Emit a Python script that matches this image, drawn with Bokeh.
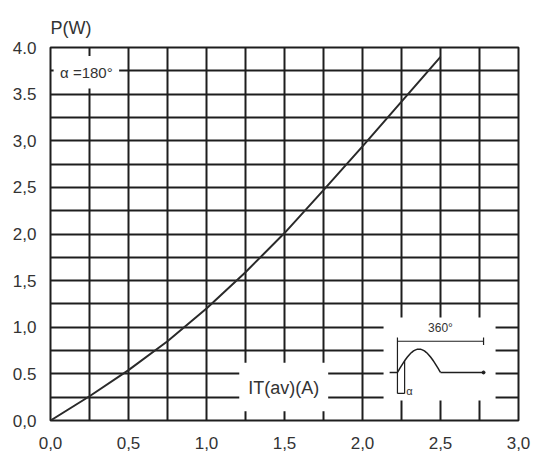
import numpy as np
from bokeh.plotting import figure
from bokeh.models import FixedTicker, Label, Range1d
from bokeh.embed import file_html
from bokeh.resources import INLINE

# Data
current_a = [0.0, 0.25, 0.5, 0.75, 1.0, 1.25, 1.5, 1.75, 2.0, 2.25, 2.5]
power_w = [0.0, 0.26, 0.54, 0.85, 1.2, 1.59, 2.01, 2.47, 2.94, 3.42, 3.9]

x_ticks = [0.0, 0.25, 0.5, 0.75, 1.0, 1.25, 1.5, 1.75, 2.0, 2.25, 2.5, 2.75, 3.0]
x_labels = ["0,0", "", "0,5", "", "1,0", "", "1,5", "", "2,0", "", "2,5", "", "3,0"]
y_ticks = [0.0, 0.25, 0.5, 0.75, 1.0, 1.25, 1.5, 1.75, 2.0, 2.25, 2.5, 2.75, 3.0, 3.25, 3.5, 3.75, 4.0]
y_labels = ["0,0", "", "0.5", "", "1,0", "", "1,5", "", "2,0", "", "2,5", "", "3,0", "", "3.5", "", "4.0"]

FONT = "Liberation Sans"
INK = "#1e1e1e"

p = figure(width=532, height=455, output_backend="svg", toolbar_location=None,
           x_range=Range1d(0, 3.0), y_range=Range1d(0, 4.0),
           min_border_left=50, min_border_right=14, min_border_top=47, min_border_bottom=35,
           title="P(W)")
p.background_fill_color = "white"
p.border_fill_color = "white"
p.outline_line_color = INK
p.outline_line_width = 2

p.title.align = "left"
p.title.text_font = FONT
p.title.text_font_size = "18px"
p.title.text_font_style = "normal"
p.title.text_color = "#333333"
p.title.offset = 0
p.title.standoff = 19

for ax, ticks, labels in ((p.xaxis[0], x_ticks, x_labels), (p.yaxis[0], y_ticks, y_labels)):
    ax.ticker = FixedTicker(ticks=ticks, minor_ticks=[])
    ax.major_label_overrides = {t: l for t, l in zip(ticks, labels)}
    ax.axis_line_color = None
    ax.major_tick_line_color = None
    ax.minor_tick_line_color = None
    ax.major_label_text_font = FONT
    ax.major_label_text_font_size = "17px"
    ax.major_label_text_color = "#333333"
p.xaxis.major_label_standoff = 10
p.yaxis.major_label_standoff = 8

p.xgrid.ticker = FixedTicker(ticks=x_ticks)
p.ygrid.ticker = FixedTicker(ticks=y_ticks)
for g in (p.xgrid[0], p.ygrid[0]):
    g.grid_line_color = INK
    g.grid_line_width = 2
    g.grid_line_alpha = 1.0

# White label boxes covering the grid
p.quad(left=[0.02, 1.21, 2.135], right=[0.44, 1.78, 2.853],
       bottom=[3.56, 0.10, 0.214], top=[3.91, 0.62, 1.105],
       fill_color="white", line_color=None)

# Curve
p.line(current_a, power_w, line_color="#2a2a2a", line_width=2)

# Texts
p.add_layout(Label(x=0.23, y=3.73, text="α =180°", text_font=FONT, text_font_size="15px",
                   text_color="#333333", text_align="center", text_baseline="middle"))
p.add_layout(Label(x=1.495, y=0.35, text="IT(av)(A)", text_font=FONT, text_font_size="18px",
                   text_color="#333333", text_align="center", text_baseline="middle"))

# Inset schematic: conduction waveform over one 360° period
x0, x1 = 2.224, 2.776          # 0° and 360° positions
base, amp = 0.515, 0.25
alpha_deg = 30
ang = np.linspace(0, 180, 40)
p.line(x0 + ang / 360 * (x1 - x0), base + amp * np.sin(np.radians(ang)), line_color=INK, line_width=1.5)
p.line([x0 + 0.5 * (x1 - x0), x1], [base, base], line_color=INK, line_width=1.5)
p.line([x0 - 0.05, x0], [base, base], line_color=INK, line_width=1.5)
p.scatter([x1], [base], size=3, color=INK)
# 360° bracket
p.line([x0, x1], [0.85, 0.85], line_color=INK, line_width=1.2)
p.line([x1, x1], [0.81, 0.89], line_color=INK, line_width=1.2)
p.line([x0, x0], [0.29, 0.89], line_color=INK, line_width=1.2)
# alpha marker
xa = x0 + alpha_deg / 360 * (x1 - x0)
p.line([xa, xa], [0.29, base + amp * np.sin(np.radians(alpha_deg))], line_color=INK, line_width=1.2)
p.line([x0, xa], [0.29, 0.29], line_color=INK, line_width=1.2)
p.add_layout(Label(x=2.5, y=0.99, text="360°", text_font=FONT, text_font_size="12px",
                   text_color="#333333", text_align="center", text_baseline="middle"))
p.add_layout(Label(x=xa + 0.01, y=0.32, text="α", text_font=FONT, text_font_size="11px",
                   text_color="#333333", text_align="left", text_baseline="middle"))

open("out.html", "w").write(file_html(p, INLINE))
